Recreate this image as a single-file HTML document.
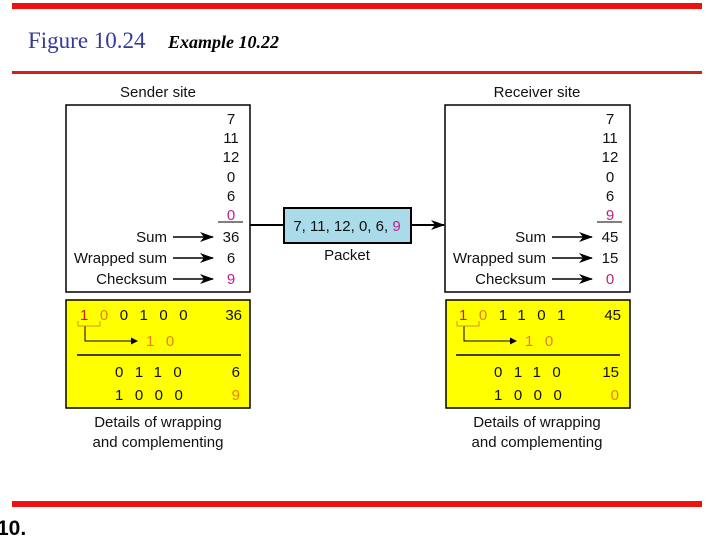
<!DOCTYPE html>
<html><head><meta charset="utf-8"><style>
html,body{margin:0;padding:0;background:#fff;width:720px;height:540px;overflow:hidden}
svg{position:absolute;left:0;top:0}
.t{font-family:"Liberation Sans",sans-serif;font-size:15px;fill:#111}
.m{fill:#c0208a}.o{fill:#e8801a}.r{fill:#d01818}
</style></head><body>
<svg width="720" height="540" viewBox="0 0 720 540">
<defs>
<marker id="a" markerWidth="14" markerHeight="10" refX="13" refY="5" orient="auto" markerUnits="userSpaceOnUse"><path d="M0,0 L14,5 L0,10 L4,5z" fill="#000"/></marker>
<marker id="s" markerWidth="7" markerHeight="7" refX="6" refY="3.5" orient="auto" markerUnits="userSpaceOnUse"><path d="M0,0 L7,3.5 L0,7z" fill="#000"/></marker>
</defs>
<rect x="12" y="3" width="690" height="6" fill="#ee1111"/>
<rect x="12" y="71" width="690" height="3" fill="#cc2222"/>
<rect x="12" y="501" width="690" height="6" fill="#ee1111"/>
<text x="28" y="48" font-family="Liberation Serif,serif" font-size="23" fill="#333a99">Figure 10.24</text>
<text x="168" y="48" font-family="Liberation Serif,serif" font-size="18" font-weight="bold" font-style="italic" fill="#000">Example 10.22</text>
<text x="-3" y="535" font-family="Liberation Sans,sans-serif" font-size="21" font-weight="bold" fill="#000">10.</text>

<line x1="250" y1="225" x2="284" y2="225" stroke="#000" stroke-width="2"/>
<line x1="411" y1="225" x2="444" y2="225" stroke="#000" stroke-width="2" marker-end="url(#a)"/>
<rect x="284" y="208" width="127" height="35" fill="#a9dbe8" stroke="#000" stroke-width="2"/>
<text class="t" x="347" y="231" text-anchor="middle">7, 11, 12, 0, 6, <tspan class="m">9</tspan></text>
<text class="t" x="347" y="260" text-anchor="middle">Packet</text>

<g>
<text class="t" x="158" y="97" text-anchor="middle">Sender site</text>
<rect x="66" y="105" width="184" height="187" fill="#fff" stroke="#000" stroke-width="1.5"/>
<g class="t" text-anchor="middle">
<text x="231" y="124">7</text><text x="231" y="143">11</text><text x="231" y="162">12</text>
<text x="231" y="182">0</text><text x="231" y="201">6</text><text x="231" y="220" class="m">0</text>
<text x="231" y="242">36</text><text x="231" y="263">6</text><text x="231" y="284" class="m">9</text>
</g>
<line x1="218" y1="222" x2="243" y2="222" stroke="#000"/>
<g class="t" text-anchor="end"><text x="167" y="242">Sum</text><text x="167" y="263">Wrapped sum</text><text x="167" y="284">Checksum</text></g>
<g stroke="#000" stroke-width="1.5"><line x1="173" y1="237" x2="213" y2="237" marker-end="url(#a)"/><line x1="173" y1="258" x2="213" y2="258" marker-end="url(#a)"/><line x1="173" y1="279" x2="213" y2="279" marker-end="url(#a)"/></g>
<rect x="66" y="300" width="184" height="108" fill="#ffff00" stroke="#000" stroke-width="1.5"/>
<text class="t" x="80" y="320" letter-spacing="11.5"><tspan class="r">1</tspan><tspan class="o">0</tspan>0100</text>
<text class="t" x="242" y="320" text-anchor="end">36</text>
<path d="M85,326 V341 H137" fill="none" stroke="#000" stroke-width="1" marker-end="url(#s)"/>
<path d="M78,321 V326 H100 V321" fill="none" stroke="#c89a20" stroke-width="1"/>
<text class="t o" x="146" y="346" letter-spacing="11.5">10</text>
<line x1="77" y1="355" x2="241" y2="355" stroke="#000" stroke-width="1.5"/>
<text class="t" x="115" y="377" letter-spacing="11.5">0110</text>
<text class="t" x="240" y="377" text-anchor="end">6</text>
<text class="t" x="115" y="400" letter-spacing="11.5">1000</text>
<text class="t o" x="240" y="400" text-anchor="end">9</text>
<text class="t" x="158" y="427" text-anchor="middle">Details of wrapping</text>
<text class="t" x="158" y="447" text-anchor="middle">and complementing</text>
</g>

<g transform="translate(379,0)">
<text class="t" x="158" y="97" text-anchor="middle">Receiver site</text>
<rect x="66" y="105" width="185" height="187" fill="#fff" stroke="#000" stroke-width="1.5"/>
<g class="t" text-anchor="middle">
<text x="231" y="124">7</text><text x="231" y="143">11</text><text x="231" y="162">12</text>
<text x="231" y="182">0</text><text x="231" y="201">6</text><text x="231" y="220" class="m">9</text>
<text x="231" y="242">45</text><text x="231" y="263">15</text><text x="231" y="284" class="m">0</text>
</g>
<line x1="218" y1="222" x2="243" y2="222" stroke="#000"/>
<g class="t" text-anchor="end"><text x="167" y="242">Sum</text><text x="167" y="263">Wrapped sum</text><text x="167" y="284">Checksum</text></g>
<g stroke="#000" stroke-width="1.5"><line x1="173" y1="237" x2="213" y2="237" marker-end="url(#a)"/><line x1="173" y1="258" x2="213" y2="258" marker-end="url(#a)"/><line x1="173" y1="279" x2="213" y2="279" marker-end="url(#a)"/></g>
<rect x="67" y="300" width="184" height="108" fill="#ffff00" stroke="#000" stroke-width="1.5"/>
<text class="t" x="80" y="320" letter-spacing="11.5"><tspan class="r">1</tspan><tspan class="o">0</tspan>1101</text>
<text class="t" x="242" y="320" text-anchor="end">45</text>
<path d="M85,326 V341 H137" fill="none" stroke="#000" stroke-width="1" marker-end="url(#s)"/>
<path d="M78,321 V326 H100 V321" fill="none" stroke="#c89a20" stroke-width="1"/>
<text class="t o" x="146" y="346" letter-spacing="11.5">10</text>
<line x1="77" y1="355" x2="241" y2="355" stroke="#000" stroke-width="1.5"/>
<text class="t" x="115" y="377" letter-spacing="11.5">0110</text>
<text class="t" x="240" y="377" text-anchor="end">15</text>
<text class="t" x="115" y="400" letter-spacing="11.5">1000</text>
<text class="t o" x="240" y="400" text-anchor="end">0</text>
<text class="t" x="158" y="427" text-anchor="middle">Details of wrapping</text>
<text class="t" x="158" y="447" text-anchor="middle">and complementing</text>
</g>
</svg>
</body></html>
